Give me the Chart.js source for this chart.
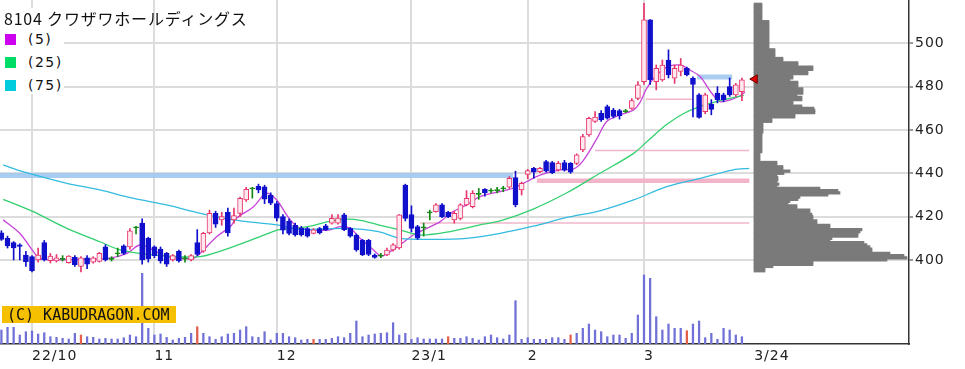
<!DOCTYPE html>
<html lang="ja">
<head>
<meta charset="utf-8">
<title>8104 クワザワホールディングス</title>
<script src="https://cdn.jsdelivr.net/npm/chart.js@4.4.1/dist/chart.umd.min.js"></script>
<style>
  html, body { margin: 0; padding: 0; background: #fff; }
  #wrap { position: relative; width: 965px; height: 369px; overflow: hidden; }
  #chart { position: absolute; left: 0; top: 0; }
  #legendBox { position: absolute; left: 0; top: 8px; width: 64px; height: 86px; background: #fff; }
  #title { position: absolute; left: 4px; top: 6px; line-height: 20px; font: 16px "Noto Sans CJK JP", sans-serif; letter-spacing: 0.8px; color: #111; white-space: nowrap; }
  .row { position: absolute; left: 5px; height: 16px; line-height: 16px; font: 14px "DejaVu Sans", sans-serif; color: #111; letter-spacing: 1.5px; display: flex; align-items: center; }
  .row i { display: inline-block; width: 11px; height: 11px; margin-right: 12px; }
  #copy { position: absolute; left: 2px; top: 306px; width: 174px; height: 17px; line-height: 17px; background: #f5c000; font: 15px "DejaVu Sans Mono", monospace; color: #111; padding-left: 5px; box-sizing: border-box; white-space: nowrap; }
</style>
</head>
<body>
<div id="wrap">
  <canvas id="chart" width="965" height="369"></canvas>
  <div id="legendBox"></div>
  <div id="title">8104 クワザワホールディングス</div>
  <div class="row" style="top:31px"><i style="background:#cc00ee"></i>(5)</div>
  <div class="row" style="top:54px"><i style="background:#00dd66"></i>(25)</div>
  <div class="row" style="top:77px"><i style="background:#00ccdd"></i>(75)</div>
  <div id="copy">(C) KABUDRAGON.COM</div>
</div>
<script>
// x axis = trading day index (0 = 22/9/26, 121 = 23/3/24)
const tickIdx = [5, 25, 45, 67, 86, 105, 123];
const tickText = ['22/10', '11', '12', '23/1', '2', '3', '3/24'];
const priceTicks = [400, 420, 440, 460, 480, 500];

const opens = [
  412.5, 410, 408, 407, 402.3, 401.5, 400, 408, 399.7, 399.5,
  400.5, 398.8, 401.2, 397, 401, 399, 399.3, 406, 400.5, 403,
  406.5, 406, 415, 417, 410, 406, 405, 403, 400, 404,
  400.7, 400, 408, 404, 412.5, 421.5, 418.5, 422, 418.5, 421.5,
  427.7, 433, 434, 433.8, 430, 426, 420, 418, 416, 414.6,
  414.5, 412.3, 414.5, 415.7, 417, 417, 420.8, 414.6, 411.5, 409,
  409, 402.3, 402, 402.3, 404.6, 405.5, 434.6, 421, 415.4, 415,
  422, 422.3, 425.4, 422, 418.5, 419.2, 425.4, 424.6, 430.5, 432.6,
  432, 432.2, 433, 433.6, 438, 432.3, 439.5, 442.3, 440.8, 445.4,
  445, 441.6, 445, 444.6, 444.6, 450.8, 457.7, 464, 467.7, 470.8,
  469.2, 469, 468.7, 470, 474.6, 482.3, 510.8, 482.3, 483.1, 492.3,
  483.9, 487, 488.5, 484, 476.2, 468.5, 472, 477, 476.2, 480,
  476.2, 477.7
];
const highs = [
  413.5, 411, 408.5, 407.5, 404, 402, 405.5, 409, 403, 402.5,
  402, 402, 402, 401.5, 402, 401.5, 403.5, 407, 401.5, 405.5,
  407, 414.5, 415.5, 419, 410.5, 406.5, 406, 403.5, 402.5, 404.5,
  402, 402.5, 414, 412.8, 423, 422.5, 422, 424, 424, 429,
  433.5, 433.5, 435, 434.5, 431, 427, 421, 419, 417, 415.5,
  415, 414.5, 415, 416.5, 421, 421, 421.5, 415, 412, 409.5,
  409.5, 402.8, 403, 405.5, 407.5, 421, 435, 425, 416, 417,
  423, 426, 426, 422.5, 422.5, 426, 432, 432, 433, 433,
  433, 433.5, 434, 438.5, 441, 436, 441.8, 442.8, 442.8, 446,
  445.5, 445.5, 446, 445, 449, 458, 466, 468.5, 469, 471.5,
  470, 469.5, 469.5, 474.5, 482.3, 518.5, 511, 490, 492.3, 497,
  490, 493, 489, 484.5, 476.8, 477, 474, 480, 477, 484,
  481.5, 484
];
const lows = [
  409, 405.5, 400, 400, 397, 394.5, 399, 399.5, 398.6, 399,
  399.5, 398.5, 397, 394.5, 396, 398.5, 399, 399.5, 399.5, 401.5,
  402.5, 405, 412, 398, 399, 401, 398.5, 397, 399.5, 399,
  399, 399.5, 402, 403.5, 412, 415, 416, 411, 417, 420,
  427, 428.5, 431, 426, 425.5, 418, 412, 411.5, 411, 411,
  410.5, 412, 412, 413.5, 416.5, 416.5, 413.5, 410.5, 404, 402,
  402, 400.8, 401, 402, 404, 405, 418, 413, 409.5, 411,
  418.5, 422, 419.5, 419.5, 417, 418.5, 425, 424, 428, 429.5,
  431, 431, 431.5, 433, 424.5, 430, 437.5, 437.7, 440.3, 440.5,
  439.8, 441, 441, 440, 444, 450, 457, 463.5, 464, 465,
  465.5, 465, 468, 469.5, 474, 481, 481, 478.5, 482.5, 484,
  481.5, 485, 485, 466, 465.4, 467.5, 467, 472.5, 473, 475.5,
  475.5, 473.5
];
const closes = [
  409.5, 406.5, 405.5, 406.3, 399.2, 395, 402.3, 400, 401.8, 401,
  400.5, 401.8, 397.8, 401, 398, 401, 403, 400, 400.5, 403,
  403, 413.5, 415, 400, 400.5, 402, 399.5, 398, 402, 399.5,
  400.7, 402, 402.5, 412.3, 421.5, 416.5, 420, 412.5, 420.5, 428.5,
  432.6, 433, 432.3, 428, 426.2, 419.3, 413.8, 412.3, 411.5, 411.5,
  411, 413.9, 412.5, 413.9, 419.2, 419.3, 414, 411, 404.6, 402.3,
  402.5, 401.2, 402, 404.6, 407, 420.8, 419.2, 414.6, 410, 415,
  422, 425.4, 420, 420, 421.5, 425.4, 428.5, 430.8, 430.5, 431,
  432, 432.2, 433, 437.7, 425.4, 435.4, 441.2, 440.5, 442.3, 441,
  440.2, 444.6, 441.5, 440.5, 448.5, 457, 465.4, 466, 464.6, 465.4,
  466.2, 466.5, 468.7, 473.6, 480.8, 510.8, 483.1, 488.5, 490, 485.4,
  488.5, 490, 485.4, 481, 465.8, 476.2, 469.5, 474, 473.9, 476.2,
  480.8, 483.1
];
// volume, relative units
const volumes = [
  14, 16.7, 16.7, 9, 12.3, 13, 10, 11.3, 7.3, 6.7,
  5.7, 5, 10.7, 9, 7.3, 6.7, 5, 5.7, 5, 5,
  6.3, 9, 7.3, 70.7, 15.7, 9, 10, 6.7, 4, 5.7,
  6.7, 10.7, 17.3, 10.7, 7.3, 4.7, 7.3, 10, 10.7, 14,
  17.3, 7.3, 6.7, 12.3, 4, 10.7, 10.7, 7.3, 6.3, 4,
  4.7, 4.7, 4.7, 4.7, 5.7, 7.3, 6.3, 10.7, 23, 7.3,
  9, 10, 10.7, 11.3, 21.3, 9, 10.7, 4.7, 6.3, 5,
  5, 5, 5, 7.3, 5.7, 5.7, 7.3, 5.7, 4, 7.3,
  9, 6.3, 5, 9, 43.3, 4.7, 6.3, 4.7, 4.7, 4.7,
  6.3, 6.3, 4.7, 9, 10.7, 15.7, 20, 14, 12.3, 7.3,
  9, 9, 5.7, 10.7, 29, 69, 65.7, 27.3, 14, 20,
  15.7, 15.7, 13.3, 20, 23, 6.3, 10.7, 4.7, 15.7, 14,
  9, 7.3
];
const redVolumeDays = [13, 32, 51, 73, 93, 112];

// moving averages [day index, price]
const ma5 = [
  [0.3, 418.5], [3, 412.3], [5.8, 401.8], [6.8, 400.3], [12, 400.2], [17.7, 400.8],
  [20.5, 403], [22.6, 406.9], [24.8, 404.6], [27, 401.5], [31.4, 400.8], [33, 404.6],
  [35.2, 410.8], [37.4, 415.4], [38.4, 419.2], [41.2, 424.6], [43.3, 430.8], [45, 427.7],
  [46.6, 420.8], [48.3, 415.4], [50.4, 413.9], [53.7, 413.9], [55.3, 415.4], [57, 414.6],
  [58.6, 410], [60.8, 404.6], [62.1, 401.8], [63.5, 403.8], [65.1, 406.9], [67.3, 411.5],
  [69.5, 414.6], [71.7, 417.7], [73.8, 422.3], [76, 425.4], [78.2, 429.2], [81.5, 431.6],
  [83.6, 433.1], [85.8, 436.1], [88, 439.2], [91.3, 441.6], [93.5, 442], [95.1, 446],
  [97.3, 456], [98.9, 463.9], [101.1, 466.9], [103.3, 469.3], [104.3, 472.5], [105.4, 479],
  [106.8, 484.5], [108.7, 489], [110.9, 490], [112.5, 487.7], [114.2, 484.6], [115.8, 478],
  [117.4, 473.1], [119.1, 473.9], [120.7, 475.8], [121.5, 477.5]
];
const ma25 = [
  [0.3, 428], [5.2, 422.3], [10.7, 414.6], [16.1, 408.4], [19.4, 404.6], [23.2, 402.8],
  [27, 401.8], [32.5, 401.5], [37.9, 406.1], [43.4, 412], [45.2, 413.9], [48.8, 414.8],
  [50.7, 415.7], [53.4, 417.7], [56.1, 418.8], [58.9, 418.2], [61.6, 416.2], [65.1, 413.9],
  [68.4, 411.5], [73.3, 413.1], [78.7, 416.5], [81.5, 418], [86.9, 423.5], [92.4, 431],
  [97.8, 440], [103.3, 449.2], [106, 456], [108.7, 462.5], [111.4, 467.5], [114.1, 470.8],
  [117.4, 473.5], [121.3, 476]
];
const ma75 = [
  [0.3, 443.9], [2.5, 441.6], [10.7, 435.4], [16.1, 432.3], [21.5, 428.5], [27, 425.4],
  [32.5, 421.5], [37.9, 418.5], [45, 416.2], [48.8, 414.2], [56.1, 414.6], [61.6, 413.1],
  [65.1, 410], [70.6, 409.5], [76, 410], [81.5, 412.3], [86.9, 415.6], [92.4, 419.6],
  [97.8, 422.7], [103.3, 427.7], [108.7, 433.8], [114.2, 437.7], [119.6, 441.6], [122.2, 442.3]
];

// horizontal levels: price, from day, to day
const bandPrice = [439, 484.5];
const bandFrom = [-0.3, 113.7];
const bandTo = [83.6, 119.4];
const zonePrice = [436.6];
const zoneFrom = [87.5];
const zoneTo = [122.2];
const linePrice = [450.5, 474.2, 417];
const lineFrom = [97, 105.3, 68.4];
const lineTo = [122.2, 113, 122.2];

// price-by-volume, 1 yen bins from 395 to 518
const profileLow = 395;
const profileVol = [
  11, 11, 19, 59, 59, 133, 153, 150, 136, 118,
  118, 116, 113, 110, 76, 78, 104, 104, 106, 108,
  76, 76, 63, 63, 59, 59, 58, 56, 56, 43,
  43, 34, 36, 44, 46, 74, 86, 84, 66, 23,
  25, 23, 24, 24, 23, 30, 36, 29, 29, 23,
  23, 6, 6, 6, 6, 8, 8, 8, 8, 8,
  8, 8, 8, 8, 9, 9, 9, 9, 9, 18,
  18, 41, 41, 61, 61, 60, 48, 39, 39, 48,
  48, 43, 49, 49, 49, 44, 44, 44, 36, 39,
  39, 54, 54, 59, 59, 44, 44, 29, 29, 21,
  21, 21, 21, 15, 15, 15, 15, 15, 15, 15,
  15, 15, 15, 15, 15, 15, 8, 8, 8, 8,
  8, 8, 8, 8
];
const lastPrice = 483.5;
const lastPriceDay = 123.1;

/* ---------- styles ---------- */
const UP = '#e8366c', UP_FILL = '#ffe8ef', DOWN = '#1010cc', DOJI = '#118811';
const PRICE_MIN = 361.2, PRICE_MAX = 520;

const days = opens.map((_, i) => i);
const kind = i => closes[i] > opens[i] ? 'up' : (closes[i] < opens[i] ? 'down' : 'doji');
const lineColor = i => ({ up: UP, down: DOWN, doji: DOJI })[kind(i)];
const fillColor = i => ({ up: UP_FILL, down: DOWN, doji: DOJI })[kind(i)];

const segment = (p, a, b) => [{ x: a, y: p }, { x: b, y: p }];
const levelSet = (prices, from, to, color, width) => prices.map((p, k) => ({
  type: 'line', data: segment(p, from[k], to[k]), borderColor: color, borderWidth: width,
  pointRadius: 0, borderCapStyle: 'butt', order: 8
}));
const maSet = (pts, color) => ({
  type: 'line', data: pts.map(([x, y]) => ({ x, y })), borderColor: color, borderWidth: 1.3,
  pointRadius: 0, tension: 0.3, order: 5
});

const barBase = { type: 'bar', grouped: false, categoryPercentage: 1, barPercentage: 1, borderWidth: 0 };

const datasets = [
  Object.assign({}, barBase, {
    indexAxis: 'y', xAxisID: 'xp', yAxisID: 'yp',
    data: profileVol.map((v, i) => ({ x: v, y: profileLow + i })),
    backgroundColor: '#7a7a7a', barThickness: 2.6, maxBarThickness: 2.6, order: 10
  }),
  Object.assign({}, barBase, {
    xAxisID: 'x', yAxisID: 'yv',
    data: days.map(i => ({ x: i, y: volumes[i] })),
    backgroundColor: days.map(i => redVolumeDays.includes(i) ? 'rgb(225,95,75)' : 'rgb(112,112,215)'),
    barThickness: 1.6, maxBarThickness: 1.6, order: 9
  }),
  ...levelSet(bandPrice, bandFrom, bandTo, 'rgba(160,200,240,0.9)', 5),
  ...levelSet(zonePrice, zoneFrom, zoneTo, '#f3b3c8', 4.5),
  ...levelSet(linePrice, lineFrom, lineTo, '#f2b6cb', 1.5),
  maSet(ma75, '#33bbe0'),
  maSet(ma25, '#33d070'),
  maSet(ma5, '#c844d8'),
  Object.assign({}, barBase, {
    xAxisID: 'x', yAxisID: 'y',
    data: days.map(i => ({ x: i, y: [lows[i], highs[i]] })),
    backgroundColor: days.map(lineColor), barThickness: 1, maxBarThickness: 1, order: 3
  }),
  Object.assign({}, barBase, {
    xAxisID: 'x', yAxisID: 'y',
    data: days.map(i => {
      const lo = Math.min(opens[i], closes[i]), hi = Math.max(opens[i], closes[i]);
      return { x: i, y: hi - lo < 0.3 ? [lo - 0.25, lo + 0.25] : [lo, hi] };
    }),
    backgroundColor: days.map(fillColor), borderColor: days.map(lineColor),
    borderWidth: 1, borderSkipped: false, barThickness: 5, maxBarThickness: 5, order: 2
  }),
  {
    type: 'scatter', xAxisID: 'x', yAxisID: 'y',
    data: [{ x: lastPriceDay, y: lastPrice }],
    pointStyle: 'triangle', rotation: -90, pointRadius: 5,
    backgroundColor: '#e00000', borderColor: '#700000', borderWidth: 1, order: 0
  }
];

const spacing = { id: 'spacing', beforeDraw(chart) { chart.ctx.letterSpacing = '1px'; } };

Chart.defaults.font.family = '"DejaVu Sans", sans-serif';

new Chart(document.getElementById('chart'), {
  type: 'bar',
  data: { datasets },
  plugins: [spacing],
  options: {
    responsive: false,
    animation: false,
    events: [],
    layout: { padding: 0, autoPadding: false },
    plugins: { legend: { display: false }, tooltip: { enabled: false } },
    scales: {
      x: {
        type: 'linear', position: 'bottom', min: -0.23, max: 148.3,
        offset: false,
        afterBuildTicks: s => { s.ticks = tickIdx.map(v => ({ value: v })); },
        afterFit: s => { s.height = 25; s.paddingLeft = 0; s.paddingRight = 0; },
        grid: {
          offset: false, lineWidth: 2, drawTicks: false,
          color: c => (c.tick && c.tick.value === 123) ? 'rgba(0,0,0,0)' : '#dcdcdc'
        },
        border: { color: '#333', width: 1.5 },
        ticks: {
          align: 'start', padding: 4, color: '#222', font: { size: 14 },
          autoSkip: false, maxRotation: 0,
          callback: v => { const k = tickIdx.indexOf(v); return k < 0 ? '' : tickText[k]; }
        }
      },
      y: {
        type: 'linear', position: 'right', min: PRICE_MIN, max: PRICE_MAX, beginAtZero: false,
        afterBuildTicks: s => { s.ticks = priceTicks.map(v => ({ value: v })); },
        afterFit: s => { s.width = 56; s.paddingTop = 0; s.paddingBottom = 0; },
        grid: { color: '#dcdcdc', lineWidth: 2, tickColor: '#333', tickLength: 4, tickWidth: 1 },
        border: { color: '#333', width: 1.5 },
        ticks: { padding: 2, color: '#222', font: { size: 14 } }
      },
      yp: { type: 'linear', axis: 'y', display: false, offset: false, min: PRICE_MIN, max: PRICE_MAX },
      yv: { type: 'linear', axis: 'y', display: false, offset: false, min: 0, max: 344 },
      xp: { type: 'linear', axis: 'x', display: false, offset: false, grid: { offset: false }, min: -754, max: 155 }
    }
  }
});
</script>
</body>
</html>
